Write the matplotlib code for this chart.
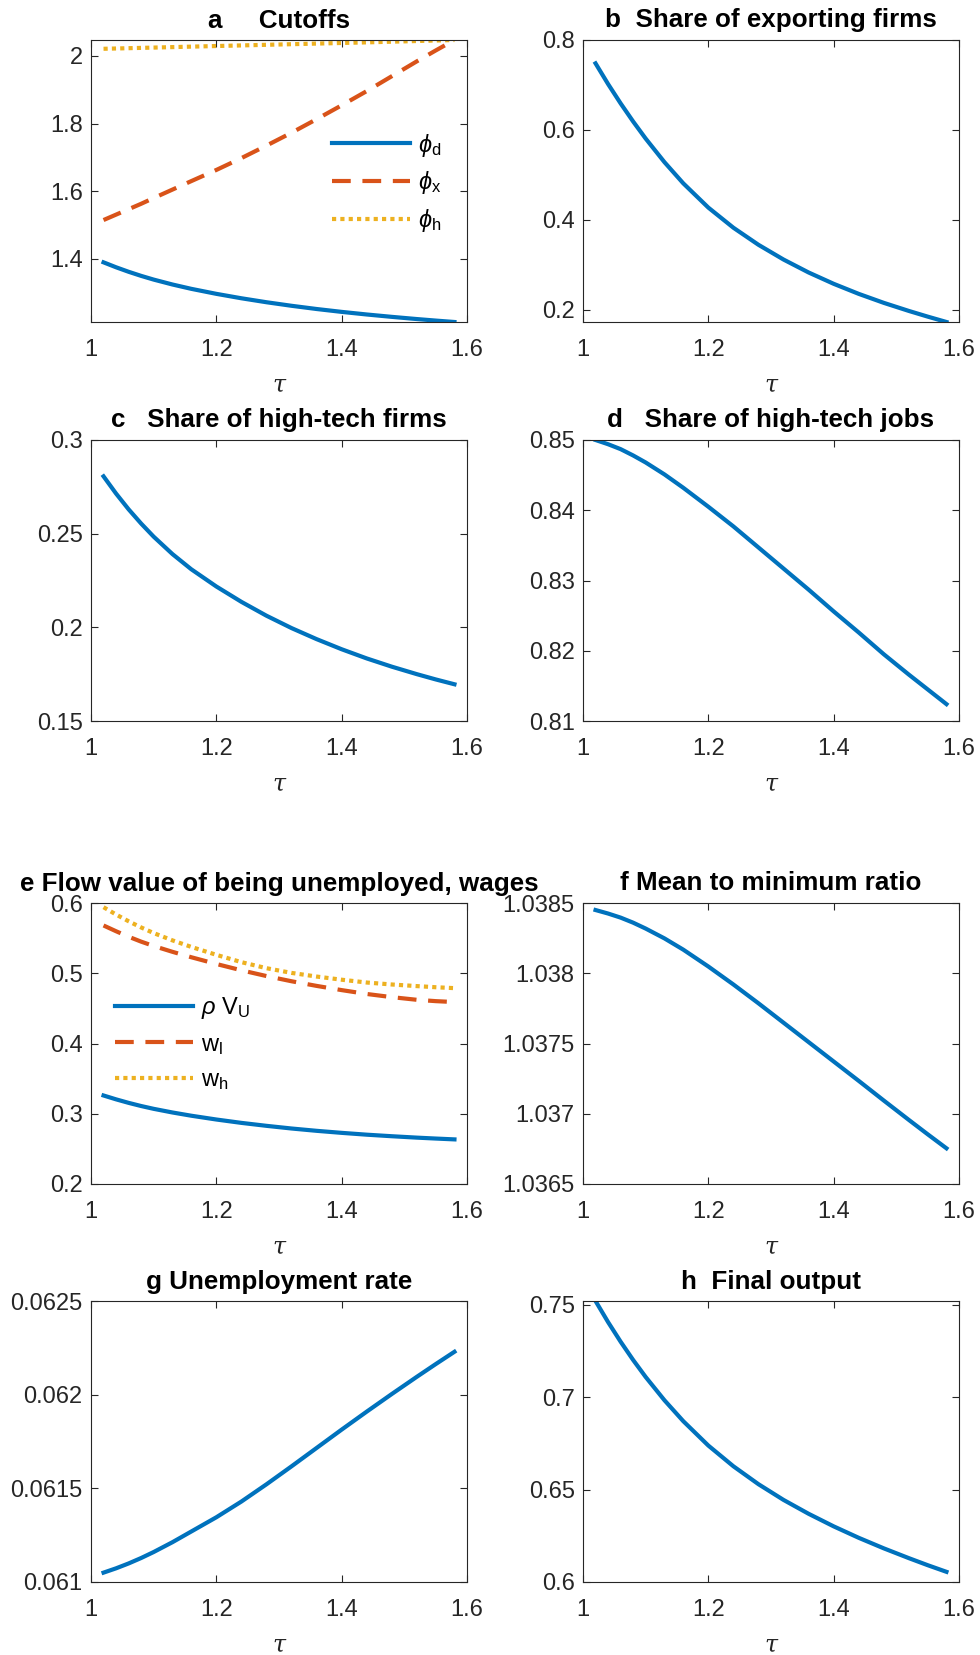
import matplotlib
matplotlib.use("Agg")
import matplotlib.pyplot as plt
from matplotlib.ticker import FuncFormatter

plt.rcParams['font.family'] = ['Liberation Sans', 'DejaVu Sans']
plt.rcParams['mathtext.fontset'] = 'custom'
plt.rcParams['mathtext.rm'] = 'Liberation Sans'
plt.rcParams['mathtext.it'] = 'Liberation Sans:italic'

# trade cost grid
tau = [1.02, 1.04, 1.06, 1.08, 1.10, 1.13, 1.16, 1.20, 1.24, 1.28,
       1.32, 1.36, 1.40, 1.44, 1.48, 1.52, 1.55, 1.58]

# a: cutoffs
phi_d = [1.390, 1.3754, 1.3621, 1.3500, 1.3390, 1.3245, 1.3117, 1.2969, 1.2838, 1.2721,
         1.2616, 1.2521, 1.2436, 1.2359, 1.2289, 1.2224, 1.2179, 1.2137]
phi_x = [1.515, 1.531, 1.547, 1.563, 1.580, 1.605, 1.630, 1.663, 1.698, 1.735,
         1.773, 1.813, 1.854, 1.896, 1.940, 1.984, 2.016, 2.047]
phi_h = [2.021, 2.0219, 2.0228, 2.0237, 2.0246, 2.026, 2.0274, 2.0292, 2.031, 2.0328,
         2.0346, 2.0364, 2.0382, 2.040, 2.042, 2.044, 2.0455, 2.047]
# b-d: shares
share_export = [0.748, 0.702, 0.659, 0.6186, 0.5806, 0.5281, 0.481, 0.427, 0.3822, 0.3442,
                0.3114, 0.2826, 0.2574, 0.235, 0.215, 0.197, 0.1844, 0.1724]
share_ht_firms = [0.2806, 0.2714, 0.2630, 0.2554, 0.2484, 0.2391, 0.2310, 0.2218, 0.2136, 0.2062,
                  0.1996, 0.1937, 0.1883, 0.1834, 0.1790, 0.1750, 0.1722, 0.1696]
share_ht_jobs = [0.8500, 0.8494, 0.8487, 0.8478, 0.8468, 0.8451, 0.8432, 0.8405, 0.8377, 0.8347,
                 0.8317, 0.8287, 0.8256, 0.8226, 0.8195, 0.8166, 0.8145, 0.8124]
# e: flow value of unemployment and wages
rho_vu = [0.326, 0.3205, 0.3155, 0.311, 0.307, 0.3018, 0.2972, 0.2918, 0.2870, 0.2828,
          0.2790, 0.2757, 0.2728, 0.2702, 0.2680, 0.2660, 0.2647, 0.2635]
w_l = [0.568, 0.5598, 0.5520, 0.5450, 0.5388, 0.5305, 0.5228, 0.5132, 0.5042, 0.4960,
       0.4886, 0.4820, 0.4760, 0.4705, 0.4660, 0.4622, 0.4603, 0.4590]
w_h = [0.594, 0.5836, 0.5740, 0.5652, 0.5572, 0.5468, 0.5375, 0.5262, 0.5158, 0.5072,
       0.5005, 0.4953, 0.4908, 0.4868, 0.4840, 0.4817, 0.4801, 0.4788]
# f-h
mean_min = [1.03845, 1.038425, 1.038396, 1.03836, 1.038318, 1.038248, 1.038168, 1.038048, 1.03792, 1.037786,
            1.037648, 1.03751, 1.037372, 1.037234, 1.037094, 1.036956, 1.036854, 1.036754]
unemp = [0.061050, 0.061073, 0.061099, 0.061128, 0.061160, 0.0612125, 0.0612695, 0.0613455, 0.0614295, 0.0615215,
         0.0616175, 0.0617155, 0.0618135, 0.0619095, 0.0620035, 0.0620955, 0.062163, 0.062229]
output = [0.752, 0.7406, 0.7300, 0.7201, 0.7109, 0.6983, 0.6870, 0.6738, 0.6626, 0.6529,
          0.6444, 0.6369, 0.6301, 0.6239, 0.6182, 0.6129, 0.6091, 0.6055]

blue = '#0072BD'
red = '#D95319'
yellow = '#EDB120'
dark = '#262626'
LW = 3.0
TICK_FS = 17
TITLE_FS = 18.7

W, H = 980, 1655
fig = plt.figure(figsize=(W / 100, H / 100), dpi=100)

cols = [(91, 467), (583, 959)]
rows = [(40, 322), (440, 721), (903, 1184), (1301, 1582)]


def make_ax(r, c):
    x0, x1 = cols[c]
    y0, y1 = rows[r]
    ax = fig.add_axes([x0 / W, 1 - y1 / H, (x1 - x0) / W, (y1 - y0) / H])
    ax.set_xlim(1, 1.6)
    ax.set_xticks([1, 1.2, 1.4, 1.6])
    fmt = FuncFormatter(lambda v, p: '%g' % round(v, 6))
    ax.xaxis.set_major_formatter(fmt)
    ax.yaxis.set_major_formatter(fmt)
    ax.tick_params(direction='in', length=5, width=0.8, top=True, right=True,
                   labelsize=TICK_FS, colors=dark)
    ax.tick_params(axis='x', pad=12)
    ax.tick_params(axis='y', pad=6)
    for s in ax.spines.values():
        s.set_color(dark)
        s.set_linewidth(0.8)
    ax.set_xlabel('τ', fontsize=TICK_FS, color=dark, labelpad=9,
                  fontfamily='DejaVu Serif', fontstyle='italic')
    return ax


def title(ax, txt):
    ax.set_title(txt, fontsize=TITLE_FS, fontweight='bold', pad=9)


def legend(ax, x, y, spacing):
    ax.legend(loc='upper left', bbox_to_anchor=(x, y), frameon=False,
              fontsize=TICK_FS, handlelength=3.3, handletextpad=0.35,
              labelspacing=spacing, borderpad=0, borderaxespad=0)


dash = (0, (4.5, 2.8))
dot = (0, (1, 1))

# a
ax = make_ax(0, 0)
ax.plot(tau, phi_d, color=blue, lw=LW, label=r'$\phi_{\rm d}$')
ax.plot(tau, phi_x, color=red, lw=LW, linestyle=dash, label=r'$\phi_{\rm x}$')
ax.plot(tau, phi_h, color=yellow, lw=LW, linestyle=dot, label=r'$\phi_{\rm h}$')
ax.set_ylim(min(phi_d), max(phi_x))
ax.set_yticks([1.4, 1.6, 1.8, 2])
title(ax, 'a     Cutoffs')
legend(ax, 0.641, 0.675, 0.45)

# b
ax = make_ax(0, 1)
ax.plot(tau, share_export, color=blue, lw=LW)
ax.set_ylim(min(share_export), 0.8)
ax.set_yticks([0.2, 0.4, 0.6, 0.8])
title(ax, 'b  Share of exporting firms')

# c
ax = make_ax(1, 0)
ax.plot(tau, share_ht_firms, color=blue, lw=LW)
ax.set_ylim(0.15, 0.3)
ax.set_yticks([0.15, 0.2, 0.25, 0.3])
title(ax, 'c   Share of high-tech firms')

# d
ax = make_ax(1, 1)
ax.plot(tau, share_ht_jobs, color=blue, lw=LW)
ax.set_ylim(0.81, 0.85)
ax.set_yticks([0.81, 0.82, 0.83, 0.84, 0.85])
title(ax, 'd   Share of high-tech jobs')

# e
ax = make_ax(2, 0)
ax.plot(tau, rho_vu, color=blue, lw=LW, label=r'$\rho$ V$_{\rm U}$')
ax.plot(tau, w_l, color=red, lw=LW, linestyle=dash, label=r'w$_{\rm l}$')
ax.plot(tau, w_h, color=yellow, lw=LW, linestyle=dot, label=r'w$_{\rm h}$')
ax.set_ylim(0.2, 0.6)
ax.set_yticks([0.2, 0.3, 0.4, 0.5, 0.6])
title(ax, 'e Flow value of being unemployed, wages')
legend(ax, 0.064, 0.671, 0.52)

# f
ax = make_ax(2, 1)
ax.plot(tau, mean_min, color=blue, lw=LW)
ax.set_ylim(1.0365, 1.0385)
ax.set_yticks([1.0365, 1.037, 1.0375, 1.038, 1.0385])
title(ax, 'f Mean to minimum ratio')

# g
ax = make_ax(3, 0)
ax.plot(tau, unemp, color=blue, lw=LW)
ax.set_ylim(0.061, 0.0625)
ax.set_yticks([0.061, 0.0615, 0.062, 0.0625])
title(ax, 'g Unemployment rate')

# h
ax = make_ax(3, 1)
ax.plot(tau, output, color=blue, lw=LW)
ax.set_ylim(0.6, max(output))
ax.set_yticks([0.6, 0.65, 0.7, 0.75])
title(ax, 'h  Final output')

fig.savefig('out.png', dpi=100)
